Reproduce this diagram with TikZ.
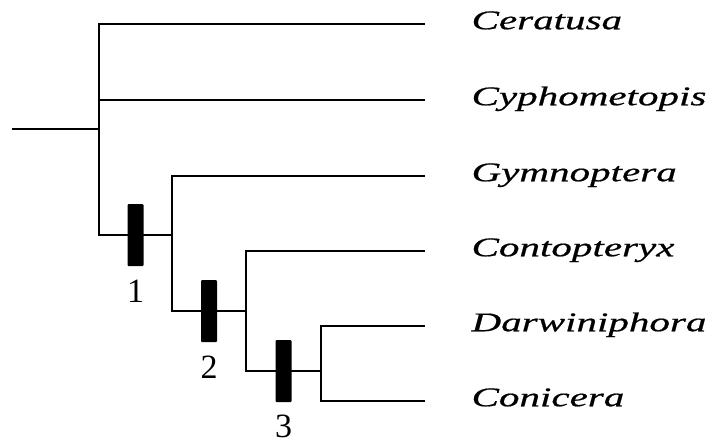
\documentclass[tikz,border=0pt]{standalone}
\usepackage{fontspec}
\setmainfont{Liberation Serif}
\newfontfamily\taxfont{Liberation Serif}[FakeStretch=1.52,FakeBold=0.6]
\usepackage{tikz}
\usetikzlibrary{positioning}

\begin{document}
\begin{tikzpicture}[x=1pt,y=-1pt,line width=1.2pt,
  taxon/.style={anchor=west,inner sep=0pt,text height=0.7em,text depth=0.25em,
    font=\taxfont\itshape\fontsize{27}{30}\selectfont,yshift=-3pt},
  synapo/.style={fill=black,draw=none,rounded corners=1pt,
    minimum width=16pt,minimum height=62pt,inner sep=0pt},
  steplabel/.style={inner sep=0pt,font=\fontsize{34}{36}\selectfont}]
\useasboundingbox (0,0) rectangle (718,447);
% branch points
\coordinate (root) at (12,129);
\coordinate (n0) at (99,129);
\coordinate (n1) at (172,235);
\coordinate (n2) at (246,311);
\coordinate (n3) at (321,371);
% tips
\coordinate (t1) at (425,24);
\coordinate (t2) at (425,100);
\coordinate (t3) at (425,176);
\coordinate (t4) at (425,251);
\coordinate (t5) at (425,326);
\coordinate (t6) at (425,401);
\node[taxon,right=46pt of t1] (cer) {Ceratusa};
\node[taxon,right=46pt of t2] (cyp) {Cyphometopis};
\node[taxon,right=46pt of t3] (gym) {Gymnoptera};
\node[taxon,right=46pt of t4] (con) {Contopteryx};
\node[taxon,right=46pt of t5] (dar) {Darwiniphora};
\node[taxon,right=46pt of t6] (coc) {Conicera};
% tree
\draw (root) -- (n0);
\draw (t1) -| (n0 |- n1) -- node[synapo] (bar1) {} (n1);
\draw (n0 |- t2) -- (t2);
\draw (t3) -| (n1 |- n2) -- node[synapo] (bar2) {} (n2);
\draw (t4) -| (n2 |- n3) -- node[synapo] (bar3) {} (n3);
\draw (t5) -| (n3 |- t6) -- (t6);
\node[steplabel,below=13pt of bar1] (lab1) {1};
\node[steplabel,below=13pt of bar2] (lab2) {2};
\node[steplabel,below=12pt of bar3] (lab3) {3};
\end{tikzpicture}
\end{document}
